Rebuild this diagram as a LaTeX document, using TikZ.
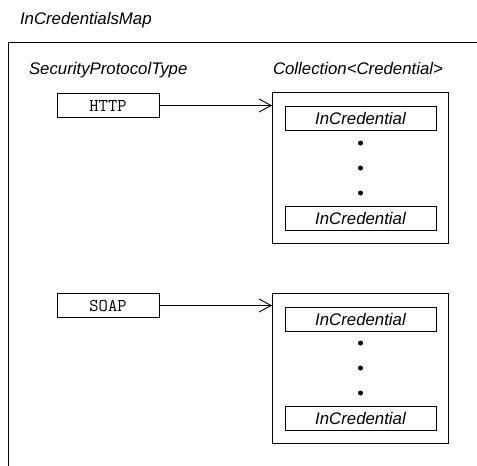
\documentclass[tikz,border=0pt]{standalone}
\usepackage{fontspec}
\setmainfont{Liberation Sans}
\usetikzlibrary{arrows.meta}
\begin{document}
\begin{tikzpicture}[x=1pt,y=1pt,
  every node/.style={inner sep=0pt, outer sep=0pt},
  lbl/.style={font=\fontsize{16.8}{18}\selectfont\itshape, anchor=base west},
  keybox/.style={draw, line width=0.9pt, minimum width=102pt, minimum height=24pt, font=\fontsize{18}{20}\selectfont\ttfamily},
  collbox/.style={draw, line width=1pt, minimum width=176pt},
  credbox/.style={draw, line width=0.9pt, minimum width=151pt, minimum height=24pt, font=\fontsize{16.8}{18}\selectfont\itshape},
  dotnode/.style={circle, fill=black, minimum size=5pt},
  link/.style={line width=0.9pt, -{Straight Barb[length=12pt,width=13pt,line width=0.9pt]}},
  frame/.style={line width=1pt}]
\useasboundingbox (0,0) rectangle (477,-466);
% outer frame (cut off at right and bottom)
\coordinate (fbl) at (8,-470);
\coordinate (fc) at (8,-42);
\coordinate (ftr) at (481,-42);
\draw[frame] (fbl) -- (fc) -- (ftr);
% labels
\node[lbl] (title) at (20,-24) {InCredentialsMap};
\node[lbl] (spt) at (29,-74) {SecurityProtocolType};
\node[lbl] (coll) at (273,-74) {Collection<Credential>};
% HTTP group
\node[keybox] (http) at (108,-105.5) {HTTP};
\node[collbox, minimum height=151pt] (c1) at (360,-167.5) {};
\node[credbox] (c1a) at (360.5,-118) {InCredential};
\node[credbox] (c1b) at (360.5,-218) {InCredential};
\node[dotnode] (d1a) at (360.5,-143) {};
\node[dotnode] (d1b) at (360.5,-168) {};
\node[dotnode] (d1c) at (360.5,-193) {};
\draw[link] (http.east) -- (http.east -| c1.west);
% SOAP group
\node[keybox] (soap) at (108,-305.5) {SOAP};
\node[collbox, minimum height=150pt] (c2) at (360,-368) {};
\node[credbox] (c2a) at (360.5,-319) {InCredential};
\node[credbox] (c2b) at (360.5,-418.5) {InCredential};
\node[dotnode] (d2a) at (360.5,-343) {};
\node[dotnode] (d2b) at (360.5,-368) {};
\node[dotnode] (d2c) at (360.5,-393) {};
\draw[link] (soap.east) -- (soap.east -| c2.west);
\end{tikzpicture}
\end{document}
